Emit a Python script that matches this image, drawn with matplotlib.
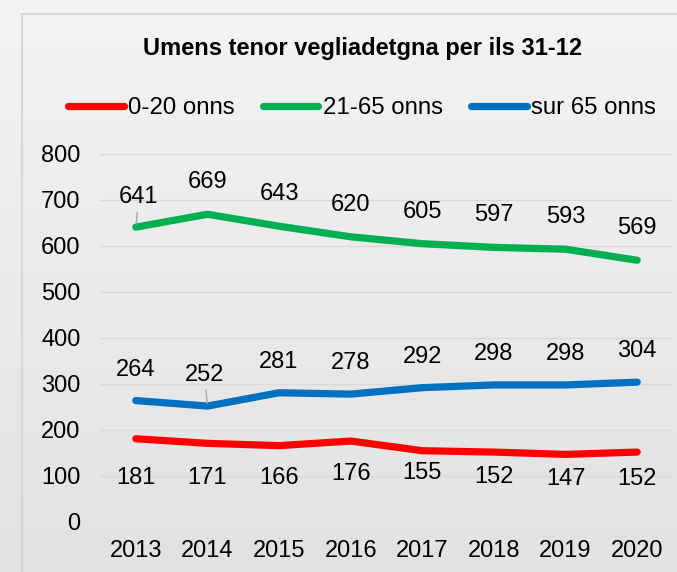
import numpy as np
import matplotlib.pyplot as plt
from matplotlib.patches import Rectangle

plt.rcParams['font.family'] = ['Liberation Sans', 'DejaVu Sans']

years = ['2013', '2014', '2015', '2016', '2017', '2018', '2019', '2020']
age_0_20 = [181, 171, 166, 176, 155, 152, 147, 152]
age_21_65 = [641, 669, 643, 620, 605, 597, 593, 569]
age_65_up = [264, 252, 281, 278, 292, 298, 298, 304]
series_names = ['0-20 onns', '21-65 onns', 'sur 65 onns']

# label offsets in px (the red ones were dragged around in the original)
red_drop = [39, 35, 32, 33, 22, 25, 25, 27]

W, H = 677, 572
fig = plt.figure(figsize=(W / 100, H / 100), dpi=100)

# gradient background
bg = fig.add_axes([0, 0, 1, 1], zorder=-2)
grad = np.linspace(0, 1, 256).reshape(-1, 1)
top = np.array([0.955, 0.955, 0.955])
bot = np.array([0.885, 0.885, 0.885])
img = top + (bot - top) * grad[:, :, None]
bg.imshow(img, aspect='auto', extent=[0, 1, 0, 1])
bg.add_patch(Rectangle((22 / W, -0.1), 1.2, 1.1 - 14 / H,
                       fill=False, edgecolor='#d6d6d6', lw=1.5))
bg.set_xlim(0, 1)
bg.set_ylim(0, 1)
bg.axis('off')

ax = fig.add_axes([100 / W, (H - 522) / H, 573 / W, 368 / H])
ax.set_facecolor('none')
x = np.arange(len(years))
fs = 17
px = 0.72

ax.plot(x, age_0_20, color='#ff0000', lw=5.2, solid_capstyle='round', label=series_names[0], zorder=3)
ax.plot(x, age_21_65, color='#00b050', lw=5.2, solid_capstyle='round', label=series_names[1], zorder=3)
ax.plot(x, age_65_up, color='#0070c0', lw=5.2, solid_capstyle='round', label=series_names[2], zorder=3)

lead = dict(arrowstyle='-', color='#a6a6a6', lw=1, shrinkA=1, shrinkB=2)
for i, v in enumerate(age_21_65):
    dx, dy = (3, 30) if i == 0 else (0, 32)
    ax.annotate(str(v), (x[i], v), xytext=(dx * px, dy * px), textcoords='offset points',
                ha='center', va='center', fontsize=fs,
                arrowprops=lead if i == 0 else None)
for i, v in enumerate(age_65_up):
    dx, dy = (-3, 31) if i == 1 else (0, 31)
    ax.annotate(str(v), (x[i], v), xytext=(dx * px, dy * px), textcoords='offset points',
                ha='center', va='center', fontsize=fs,
                arrowprops=lead if i == 1 else None)
for i, v in enumerate(age_0_20):
    ax.annotate(str(v), (x[i], v), xytext=(0, -red_drop[i] * px), textcoords='offset points',
                ha='center', va='center', fontsize=fs)

ax.set_xlim(-0.5, len(years) - 0.5)
ax.set_ylim(0, 800)
ax.set_yticks(range(0, 801, 100))
ax.set_xticks(x)
ax.set_xticklabels(years)
ax.tick_params(axis='both', length=0, labelsize=fs)
ax.tick_params(axis='y', pad=14)
ax.tick_params(axis='x', pad=13)
ax.grid(axis='y', color='#d9d9d9', lw=1)
ax.set_axisbelow(True)
for s in ax.spines.values():
    s.set_visible(False)

fig.text(363 / W, 1 - 49 / H, 'Umens tenor vegliadetgna per ils 31-12',
         ha='center', va='center', fontsize=17, fontweight='bold')

fig.legend(loc='center', bbox_to_anchor=(362 / W, 1 - 108 / H), ncol=3, frameon=False,
           fontsize=17.3, handlelength=2.3, handletextpad=0.17, columnspacing=1.2,
           borderpad=0, borderaxespad=0)

fig.savefig('out.png', dpi=100)
